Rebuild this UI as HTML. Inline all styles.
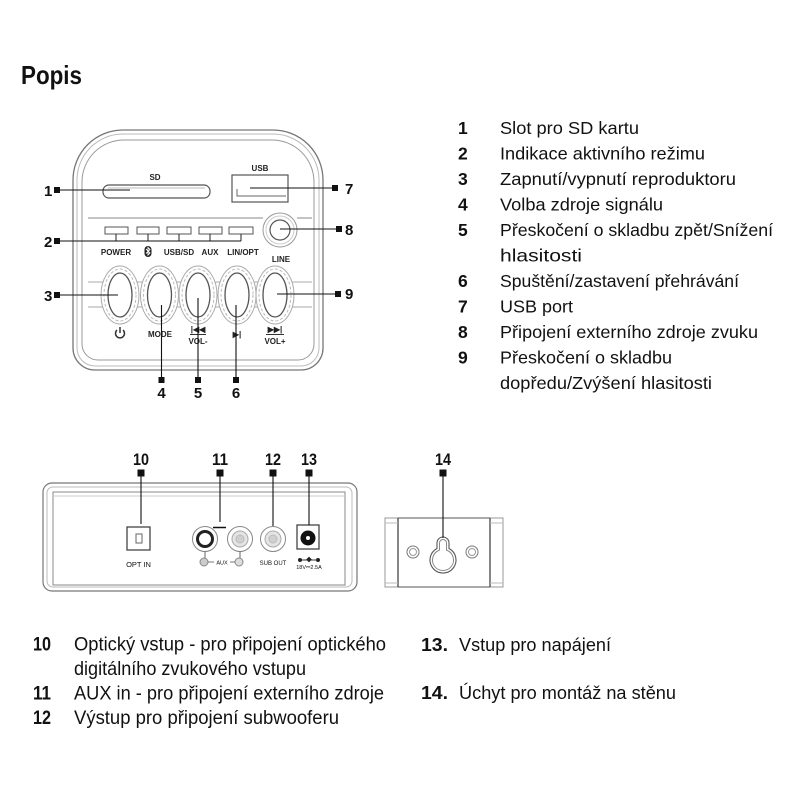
<!DOCTYPE html>
<html><head><meta charset="utf-8"><style>
html,body{margin:0;padding:0;background:#fff;}
svg{display:block;}
text{font-family:"Liberation Sans Narrow","Liberation Sans",Arial,sans-serif;fill:#111;}
.b{font-weight:bold;}
.s{font-family:"Liberation Sans",Arial,sans-serif;font-weight:bold;font-size:8px;fill:#222;}
</style></head><body>
<svg width="800" height="800" viewBox="0 0 800 800" xmlns="http://www.w3.org/2000/svg">
<rect width="800" height="800" fill="#fff"/>
<!-- Title -->
<text x="21" y="84" class="b" font-size="26" textLength="61" lengthAdjust="spacingAndGlyphs">Popis</text>

<!-- Right list -->
<g font-size="17.5">
<text x="458" y="134" class="b">1</text><text x="500" y="134" textLength="139" lengthAdjust="spacingAndGlyphs">Slot pro SD kartu</text>
<text x="458" y="159.5" class="b">2</text><text x="500" y="159.5" textLength="205" lengthAdjust="spacingAndGlyphs">Indikace aktivního režimu</text>
<text x="458" y="185" class="b">3</text><text x="500" y="185" textLength="236" lengthAdjust="spacingAndGlyphs">Zapnutí/vypnutí reproduktoru</text>
<text x="458" y="210.5" class="b">4</text><text x="500" y="210.5" textLength="163" lengthAdjust="spacingAndGlyphs">Volba zdroje signálu</text>
<text x="458" y="236" class="b">5</text><text x="500" y="236" textLength="273" lengthAdjust="spacingAndGlyphs">Přeskočení o skladbu zpět/Snížení</text>
<text x="500" y="261.5" textLength="82" lengthAdjust="spacingAndGlyphs">hlasitosti</text>
<text x="458" y="287" class="b">6</text><text x="500" y="287" textLength="239" lengthAdjust="spacingAndGlyphs">Spuštění/zastavení přehrávání</text>
<text x="458" y="312.5" class="b">7</text><text x="500" y="312.5" textLength="73" lengthAdjust="spacingAndGlyphs">USB port</text>
<text x="458" y="338" class="b">8</text><text x="500" y="338" textLength="258" lengthAdjust="spacingAndGlyphs">Připojení externího zdroje zvuku</text>
<text x="458" y="363.5" class="b">9</text><text x="500" y="363.5" textLength="172" lengthAdjust="spacingAndGlyphs">Přeskočení o skladbu</text>
<text x="500" y="389" textLength="212" lengthAdjust="spacingAndGlyphs">dopředu/Zvýšení hlasitosti</text>
</g>

<!-- Bottom lists -->
<g font-size="19.5">
<text x="33" y="650.5" class="b" textLength="18" lengthAdjust="spacingAndGlyphs">10</text><text x="74" y="650.5" textLength="312" lengthAdjust="spacingAndGlyphs">Optický vstup - pro připojení optického</text>
<text x="74" y="675" textLength="232" lengthAdjust="spacingAndGlyphs">digitálního zvukového vstupu</text>
<text x="33" y="699.5" class="b" textLength="18" lengthAdjust="spacingAndGlyphs">11</text><text x="74" y="699.5" textLength="310" lengthAdjust="spacingAndGlyphs">AUX in - pro připojení externího zdroje</text>
<text x="33" y="724" class="b" textLength="18" lengthAdjust="spacingAndGlyphs">12</text><text x="74" y="724" textLength="265" lengthAdjust="spacingAndGlyphs">Výstup pro připojení subwooferu</text>
</g>
<g font-size="18.5">
<text x="421" y="651" class="b" textLength="27" lengthAdjust="spacingAndGlyphs">13.</text><text x="459" y="651" textLength="152" lengthAdjust="spacingAndGlyphs">Vstup pro napájení</text>
<text x="421" y="699" class="b" textLength="27" lengthAdjust="spacingAndGlyphs">14.</text><text x="459" y="699" textLength="217" lengthAdjust="spacingAndGlyphs">Úchyt pro montáž na stěnu</text>
</g>

<!-- ============ FRONT PANEL ============ -->
<g fill="none">
<path d="M73,180 A50,50 0 0 1 123,130 L273,130 A50,50 0 0 1 323,180 L323,348 A22,22 0 0 1 301,370 L95,370 A22,22 0 0 1 73,348 Z" stroke="#777" stroke-width="1.3"/>
<path d="M77,180 A46,46 0 0 1 123,134 L273,134 A46,46 0 0 1 319,180 L319,348 A18,18 0 0 1 301,366 L95,366 A18,18 0 0 1 77,348 Z" stroke="#bbb" stroke-width="1"/>
<path d="M82,182 A42,42 0 0 1 124,140 L272,140 A42,42 0 0 1 314,182 L314,344 A16,16 0 0 1 298,360 L98,360 A16,16 0 0 1 82,344 Z" stroke="#999" stroke-width="1"/>
<line x1="88" y1="218" x2="263" y2="218" stroke="#888"/>
<line x1="297" y1="218" x2="312" y2="218" stroke="#888"/>
<line x1="88" y1="282" x2="312" y2="282" stroke="#aaa"/>
<line x1="88" y1="307" x2="312" y2="307" stroke="#aaa"/>
<!-- SD -->
<rect x="103" y="185" width="107" height="13" rx="6" stroke="#555" stroke-width="1.2"/>
<line x1="108" y1="188" x2="205" y2="188" stroke="#bbb"/>
<!-- USB -->
<rect x="232" y="175" width="56" height="27" stroke="#555" stroke-width="1.2"/>
<polyline points="237,189 237,196 286,196" stroke="#666"/>
<!-- LINE jack -->
<circle cx="280" cy="230" r="17" stroke="#999" fill="#fff"/>
<circle cx="280" cy="230" r="14" stroke="#ccc"/>
<circle cx="280" cy="230" r="10" stroke="#555" stroke-width="1.2"/>
<!-- LEDs -->
<g stroke="#555" stroke-width="1">
<rect x="105" y="227" width="23" height="7"/>
<rect x="137" y="227" width="22" height="7"/>
<rect x="167" y="227" width="24" height="7"/>
<rect x="199" y="227" width="23" height="7"/>
<rect x="229" y="227" width="24" height="7"/>
</g>
<g stroke="#222" stroke-width="1">
<line x1="116" y1="234" x2="116" y2="241"/>
<line x1="148" y1="234" x2="148" y2="241"/>
<line x1="179" y1="234" x2="179" y2="241"/>
<line x1="210" y1="234" x2="210" y2="241"/>
<line x1="241" y1="234" x2="241" y2="241"/>
</g>
<!-- Buttons -->
<g>
<ellipse cx="120" cy="295" rx="19" ry="29" stroke="#aaa" fill="#fff"/>
<ellipse cx="159.5" cy="295" rx="19" ry="29" stroke="#aaa" fill="#fff"/>
<ellipse cx="198" cy="295" rx="19" ry="29" stroke="#aaa" fill="#fff"/>
<ellipse cx="237" cy="295" rx="19" ry="29" stroke="#aaa" fill="#fff"/>
<ellipse cx="275" cy="295" rx="19" ry="29" stroke="#aaa" fill="#fff"/>
</g>
<g stroke="#bbb" stroke-dasharray="3 2">
<ellipse cx="120" cy="295" rx="16" ry="26"/>
<ellipse cx="159.5" cy="295" rx="16" ry="26"/>
<ellipse cx="198" cy="295" rx="16" ry="26"/>
<ellipse cx="237" cy="295" rx="16" ry="26"/>
<ellipse cx="275" cy="295" rx="16" ry="26"/>
</g>
<g stroke="#555" stroke-width="1.3">
<ellipse cx="120" cy="295" rx="12" ry="22"/>
<ellipse cx="159.5" cy="295" rx="12" ry="22"/>
<ellipse cx="198" cy="295" rx="12" ry="22"/>
<ellipse cx="237" cy="295" rx="12" ry="22"/>
<ellipse cx="275" cy="295" rx="12" ry="22"/>
</g>
<!-- power icon -->
<path d="M117,330 A4.5,4.5 0 1 0 123,330" stroke="#333" stroke-width="1.5"/>
<line x1="120" y1="327" x2="120" y2="333" stroke="#333" stroke-width="1.5"/>
<line x1="190" y1="334.5" x2="206" y2="334.5" stroke="#333"/>
<line x1="266" y1="334.5" x2="284" y2="334.5" stroke="#333"/>
<!-- bluetooth icon -->
<rect x="144.5" y="246" width="7" height="11" rx="3.5" fill="#222" stroke="none"/>
<path d="M146,249 L150,253 L148,255 L148,247.5 L150,249.5 L146,253.5" stroke="#fff" stroke-width="0.9"/>
</g>
<text x="155" y="180" class="s" text-anchor="middle">SD</text>
<text x="260" y="171" class="s" text-anchor="middle">USB</text>
<text x="281" y="262" class="s" text-anchor="middle">LINE</text>
<text x="116" y="255" class="s" text-anchor="middle">POWER</text>
<text x="179" y="255" class="s" text-anchor="middle">USB/SD</text>
<text x="210" y="255" class="s" text-anchor="middle">AUX</text>
<text x="243" y="255" class="s" text-anchor="middle">LIN/OPT</text>
<text x="160" y="337" class="s" text-anchor="middle">MODE</text>
<text x="198" y="332" class="s" text-anchor="middle" font-size="7">|◀◀</text>
<text x="198" y="344" class="s" text-anchor="middle">VOL-</text>
<text x="237" y="337" class="s" text-anchor="middle" font-size="9">▶|</text>
<text x="275" y="332" class="s" text-anchor="middle" font-size="7">▶▶|</text>
<text x="275" y="344" class="s" text-anchor="middle">VOL+</text>

<!-- Front leaders -->
<g stroke="#111" stroke-width="1.1">
<line x1="60" y1="190" x2="130" y2="190"/>
<line x1="60" y1="241" x2="241" y2="241"/>
<line x1="60" y1="295" x2="118" y2="295"/>
<line x1="250" y1="188" x2="332" y2="188"/>
<line x1="280" y1="229" x2="336" y2="229"/>
<line x1="277" y1="294" x2="335" y2="294"/>
<line x1="161.5" y1="305" x2="161.5" y2="377"/>
<line x1="198" y1="298" x2="198" y2="377"/>
<line x1="236" y1="305" x2="236" y2="377"/>
</g>
<g fill="#111">
<rect x="54" y="187" width="6" height="6"/>
<rect x="54" y="238" width="6" height="6"/>
<rect x="54" y="292" width="6" height="6"/>
<rect x="332" y="185" width="6" height="6"/>
<rect x="336" y="226" width="6" height="6"/>
<rect x="335" y="291" width="6" height="6"/>
<rect x="158.5" y="377" width="6" height="6"/>
<rect x="195" y="377" width="6" height="6"/>
<rect x="233" y="377" width="6" height="6"/>
</g>
<g font-size="15">
<text x="44" y="196" class="b">1</text>
<text x="44" y="247" class="b">2</text>
<text x="44" y="301" class="b">3</text>
<text x="345" y="194" class="b">7</text>
<text x="345" y="235" class="b">8</text>
<text x="345" y="299" class="b">9</text>
<text x="161.5" y="398" class="b" text-anchor="middle">4</text>
<text x="198" y="398" class="b" text-anchor="middle">5</text>
<text x="236" y="398" class="b" text-anchor="middle">6</text>
</g>

<!-- ============ BACK PANEL ============ -->
<g fill="none">
<rect x="43" y="483" width="314" height="108" rx="9" stroke="#777" stroke-width="1.2"/>
<rect x="47" y="487" width="305" height="100" rx="6" stroke="#bbb"/>
<rect x="53" y="492" width="292" height="93" stroke="#888"/>
<line x1="53" y1="496" x2="345" y2="496" stroke="#ccc"/>
<!-- OPT IN -->
<rect x="127" y="527" width="23" height="23" stroke="#444" stroke-width="1.3"/>
<rect x="136" y="534" width="6" height="9" stroke="#666"/>
<!-- RCA R -->
<circle cx="205" cy="539" r="12.5" stroke="#888" fill="#fff"/>
<circle cx="205" cy="539" r="7.5" stroke="#222" stroke-width="3"/>
<!-- RCA L -->
<circle cx="240" cy="539" r="12.5" stroke="#888"/>
<circle cx="240" cy="539" r="8" stroke="#aaa" fill="#e4e4e4"/>
<circle cx="240" cy="539" r="4" stroke="#bbb" fill="#d0d0d0"/>
<!-- SUB -->
<circle cx="273" cy="539" r="12.5" stroke="#888"/>
<circle cx="273" cy="539" r="8" stroke="#aaa" fill="#e4e4e4"/>
<circle cx="273" cy="539" r="4" stroke="#bbb" fill="#d0d0d0"/>
<!-- DC -->
<rect x="297" y="525" width="22" height="24" stroke="#444" stroke-width="1.3"/>
<circle cx="308" cy="538" r="7.5" fill="#111" stroke="none"/>
<circle cx="308" cy="538" r="2" fill="#fff" stroke="none"/>
<!-- AUX labels -->
<line x1="205" y1="551" x2="205" y2="558" stroke="#666"/>
<line x1="240" y1="551" x2="240" y2="558" stroke="#666"/>
<circle cx="204" cy="562" r="4" stroke="#888" fill="#ccc"/>
<circle cx="239" cy="562" r="4" stroke="#888" fill="#ddd"/>
<line x1="208" y1="562" x2="214" y2="562" stroke="#777"/>
<line x1="230" y1="562" x2="235" y2="562" stroke="#777"/>
<line x1="300" y1="560" x2="318" y2="560" stroke="#333"/>
</g>
<circle cx="300" cy="560" r="2" fill="#222"/>
<circle cx="318" cy="560" r="2" fill="#222"/>
<rect x="307" y="557.5" width="4" height="4" fill="#222" transform="rotate(45 309 559.5)"/>
<text x="138.5" y="567" text-anchor="middle" font-family="Liberation Sans, sans-serif" font-size="7.5" fill="#444">OPT IN</text>
<text x="222" y="564.5" text-anchor="middle" font-family="Liberation Sans, sans-serif" font-size="5.5" fill="#666">AUX</text>
<text x="273" y="565" text-anchor="middle" font-family="Liberation Sans, sans-serif" font-size="6" fill="#666">SUB OUT</text>
<text x="309" y="569" text-anchor="middle" font-family="Liberation Sans, sans-serif" font-size="5.5" fill="#666">18V⎓2.5A</text>

<!-- back leaders -->
<g stroke="#111" stroke-width="1.1">
<line x1="141" y1="476" x2="141" y2="524"/>
<line x1="220" y1="476" x2="220" y2="522"/>
<line x1="213" y1="527.5" x2="226" y2="527.5" stroke-width="1.5"/>
<line x1="273" y1="476" x2="273" y2="526"/>
<line x1="309" y1="476" x2="309" y2="525"/>
</g>
<g fill="#111">
<rect x="137.5" y="469.5" width="7" height="7"/>
<rect x="216.5" y="469.5" width="7" height="7"/>
<rect x="269.5" y="469.5" width="7" height="7"/>
<rect x="305.5" y="469.5" width="7" height="7"/>
<rect x="439.5" y="469.5" width="7" height="7"/>
</g>
<g font-size="17">
<text x="141" y="465" class="b" text-anchor="middle" textLength="16" lengthAdjust="spacingAndGlyphs">10</text>
<text x="220" y="465" class="b" text-anchor="middle" textLength="16" lengthAdjust="spacingAndGlyphs">11</text>
<text x="273" y="465" class="b" text-anchor="middle" textLength="16" lengthAdjust="spacingAndGlyphs">12</text>
<text x="309" y="465" class="b" text-anchor="middle" textLength="16" lengthAdjust="spacingAndGlyphs">13</text>
<text x="443" y="465" class="b" text-anchor="middle" textLength="16" lengthAdjust="spacingAndGlyphs">14</text>
</g>

<!-- ============ WALL MOUNT ============ -->
<g fill="none">
<rect x="385" y="518" width="118" height="69" stroke="#999"/>
<line x1="398" y1="518" x2="398" y2="587" stroke="#444" stroke-width="1.3"/>
<line x1="490" y1="518" x2="490" y2="587" stroke="#444" stroke-width="1.3"/>
<line x1="385" y1="523" x2="398" y2="523" stroke="#bbb"/>
<line x1="385" y1="583" x2="398" y2="583" stroke="#bbb"/>
<line x1="490" y1="523" x2="503" y2="523" stroke="#bbb"/>
<line x1="490" y1="583" x2="503" y2="583" stroke="#bbb"/>
<line x1="398" y1="518" x2="490" y2="518" stroke="#555"/>
<line x1="398" y1="587" x2="490" y2="587" stroke="#555"/>
<path d="M437,548.5 L437,543 A6,6 0 0 1 449,543 L449,548.5 A13,13 0 1 1 437,548.5 Z" stroke="#555" stroke-width="1.1" fill="#fff"/>
<path d="M439.5,550.1 L439.5,543 A3.5,3.5 0 0 1 446.5,543 L446.5,550.1 A10.5,10.5 0 1 1 439.5,550.1 Z" stroke="#888"/>
<circle cx="413" cy="552" r="6" stroke="#777"/>
<circle cx="413" cy="552" r="3.5" stroke="#999"/>
<circle cx="472" cy="552" r="6" stroke="#777"/>
<circle cx="472" cy="552" r="3.5" stroke="#999"/>
</g>
<line x1="443" y1="476" x2="443" y2="538" stroke="#111" stroke-width="1.1"/>
</svg>
</body></html>
